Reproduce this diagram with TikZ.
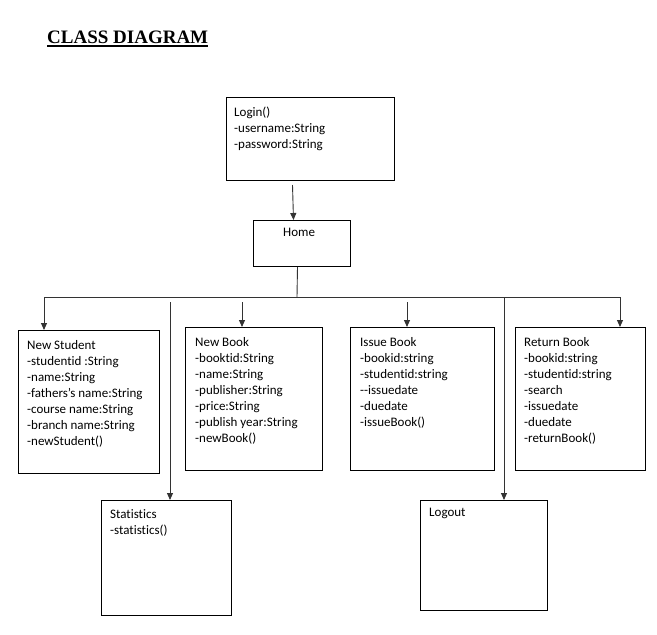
\documentclass[tikz,border=0pt]{standalone}
\usepackage{fontspec}
\setmainfont{Carlito}[Ligatures=NoCommon]
\newfontfamily\titlefont{Liberation Serif}
\usetikzlibrary{arrows.meta,calc,positioning}
\tikzset{>={Triangle[width=6pt,length=7pt]}}
\tikzset{
  classbox/.style={draw,line width=1pt,anchor=north west,inner sep=0pt},
  classtext/.style={anchor=north west,align=left,inner sep=0pt,font=\fontsize{13}{16}\selectfont},
  link/.style={line width=0.9pt,black!80}
}

\begin{document}
\begin{tikzpicture}[x=1pt,y=-1pt]
\useasboundingbox (0,0) rectangle (657,635);

\node[anchor=base west,inner sep=0pt,font=\titlefont\bfseries\fontsize{19}{21}\selectfont] (title) at (47,43) {CLASS DIAGRAM};
\draw[line width=2pt] ($(title.base west)+(0,3)$) -- ($(title.base east)+(0,3)$);

% class boxes
\foreach \name/\x/\y/\w/\h in {login/226/97/168/83, home/253/220/97/46,
  student/18/330/141/143, book/185/327/137/143, issue/350/327/144/143,
  return/515/327/130/143, stats/101/500/130/115, logout/420/500/127/110} {
\node[classbox,minimum width=\w pt,minimum height=\h pt] (\name) at (\x,\y) {};
};

\node[classtext] (logintext) at (234,107) {Login()\\-username:String\\-password:String};
\node[classtext] (hometext) at (283,228) {Home};
\node[classtext] (studenttext) at (27,340.5) {New Student\\-studentid :String\\-name:String\\-fathers's name:String\\-course name:String\\-branch name:String\\-newStudent()};
\node[classtext] (booktext) at (195,337.5) {New Book\\-booktid:String\\-name:String\\-publisher:String\\-price:String\\-publish year:String\\-newBook()};
\node[classtext] (issuetext) at (360,337.5) {Issue Book\\-bookid:string\\-studentid:string\\-{}-issuedate\\-duedate\\-issueBook()};
\node[classtext] (returntext) at (524,337.5) {Return Book\\-bookid:string\\-studentid:string\\-search\\-issuedate\\-duedate\\-returnBook()};
\node[classtext] (statstext) at (110,509) {Statistics\\-statistics()};
\node[classtext] (logouttext) at (429,508) {Logout};

% connectors
\coordinate (hub) at (297,297);
\coordinate (busl) at (44,297);
\coordinate (busr) at (620,297);
\coordinate (bookin) at ($(book.north west)+(57,0)$);
\coordinate (issuein) at ($(issue.north west)+(57,0)$);
\coordinate (statsin) at ($(stats.north west)+(69,0)$);
\coordinate (logoutin) at ($(logout.north west)+(84,0)$);

\draw[link,->] ([xshift=-18pt,yshift=-4pt]login.south) -- ([xshift=-8.5pt]home.north);
\draw[link] ([xshift=-4.5pt]home.south) -- (hub);
\draw[link] (busl) -- (busr);
\draw[link,->] (busl) -- (busl |- student.north);
\draw[link,->] (busr) -- (busr |- return.north);
\draw[link,->] ([yshift=25pt]bookin) -- (bookin);
\draw[link,->] ([yshift=25pt]issuein) -- (issuein);
\draw[link,->] ([yshift=198pt]statsin) -- (statsin);
\draw[link,->] (logoutin |- hub) -- (logoutin);
\end{tikzpicture}
\end{document}
